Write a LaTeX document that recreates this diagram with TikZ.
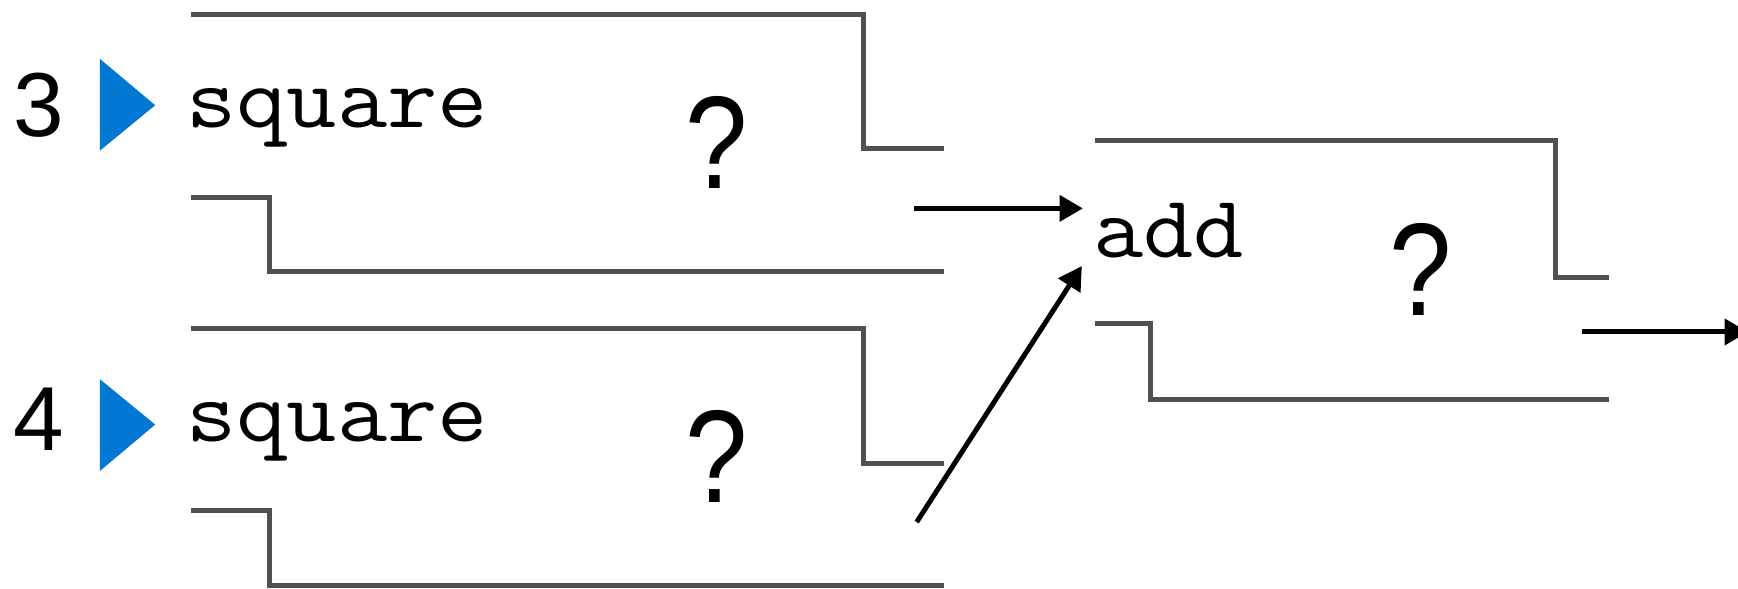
\documentclass[tikz,border=0pt]{standalone}
\usepackage{fontspec}
\setmainfont{Liberation Sans}
\usetikzlibrary{arrows.meta}
\definecolor{wiregray}{HTML}{505050}
\definecolor{playblue}{HTML}{0078D4}
\tikzset{
  wire/.style={draw=wiregray, line width=4.5pt, line join=miter},
  flow/.style={draw=black, line width=4.5pt, -{Triangle[length=21pt,width=23pt]}},
  fname/.style={font=\fontsize{80}{84}\selectfont\ttfamily, inner sep=0pt, anchor=base west, xscale=1.1},
  argnum/.style={font=\fontsize{82}{86}\selectfont, inner sep=0pt, anchor=base},
  qmark/.style={font=\fontsize{119}{125}\selectfont, inner sep=0pt, anchor=base, xscale=0.85},
  play/.style={fill=playblue, draw=none}
}
\begin{document}
\begin{tikzpicture}[x=1pt,y=-1pt]
\useasboundingbox (0,0) rectangle (1568,531);
\clip (0,0) rectangle (1568,531);
% first square frame
\draw[wire] (172,13) -- (779,13) -- (779,134) -- (852,134);
\draw[wire] (172,178) -- (243,178) -- (243,245) -- (852,245);
\fill[play] (90,53) -- (140,95) -- (90,136) -- cycle;
\node[argnum] (n3) at (35,123.5) {3};
\node[fname] (sq1) at (168,115) {square};
\node[qmark] (q1) at (647,170.5) {?};
% second square frame
\draw[wire] (172,296) -- (779,296) -- (779,418) -- (852,418);
\draw[wire] (172,461) -- (243,461) -- (243,528) -- (852,528);
\fill[play] (90,342) -- (140,383) -- (90,425) -- cycle;
\node[argnum] (n4) at (35,406) {4};
\node[fname] (sq2) at (168,398) {square};
\node[qmark] (q2) at (647,453) {?};
% add frame
\draw[wire] (988,127) -- (1403,127) -- (1403,250) -- (1452,250);
\draw[wire] (988,292) -- (1038,292) -- (1038,360) -- (1452,360);
\node[fname] (add) at (986,232) {add};
\node[qmark] (q3) at (1282,285) {?};
% connectors
\coordinate (o1) at (825,188);
\coordinate (i1) at (977,188);
\coordinate (o2) at (827,471);
\coordinate (i2) at (976,240);
\coordinate (o3) at (1427,299.5);
\coordinate (out) at (1577,299.5);
\draw[flow] (o1) -- (i1);
\draw[flow] (o2) -- (i2);
\draw[flow] (o3) -- (out);
\end{tikzpicture}
\end{document}
